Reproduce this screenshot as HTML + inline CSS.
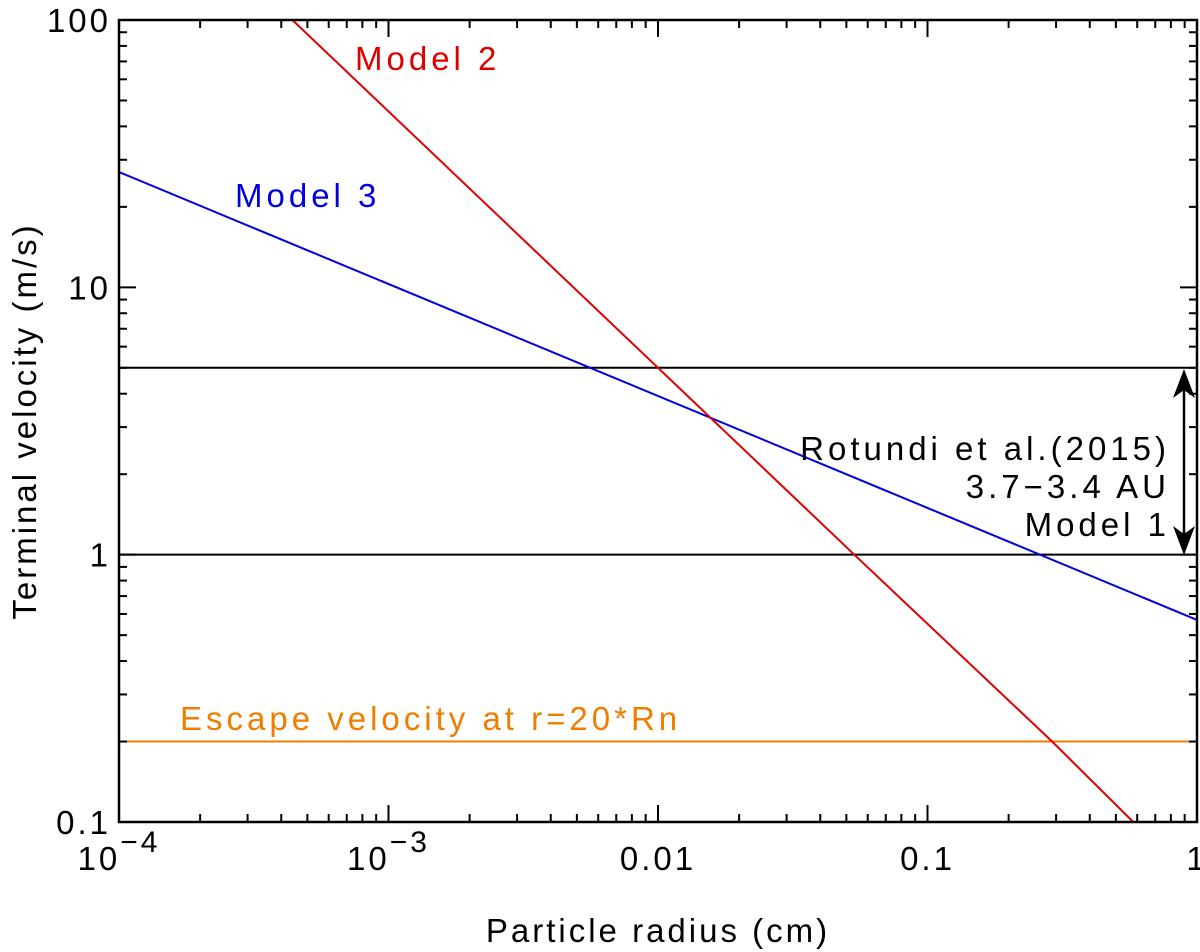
<!DOCTYPE html>
<html><head><meta charset="utf-8"><style>
html,body{margin:0;padding:0;background:#fff;}
svg{display:block;font-family:"Liberation Sans",sans-serif;}
</style></head><body>
<svg id="chart" width="1200" height="952" viewBox="0 0 1200 952" xmlns="http://www.w3.org/2000/svg">
<defs>
<clipPath id="clip"><rect x="119" y="20" width="1078" height="802"/></clipPath>
</defs>
<g id="grid"></g>
<g id="series" clip-path="url(#clip)"></g>
<rect x="119" y="20" width="1078" height="802" fill="none" stroke="#000" stroke-width="2.5"/>
<g id="ticks"></g>
<text x="658" y="942" font-size="33" text-anchor="middle" letter-spacing="3">Particle radius (cm)</text>
<text transform="translate(36,421) rotate(-90)" font-size="33" text-anchor="middle" letter-spacing="3">Terminal velocity (m/s)</text>
<text x="355" y="70" font-size="33" letter-spacing="4" fill="#e00000">Model 2</text>
<text x="235" y="207" font-size="33" letter-spacing="4" fill="#0000e0">Model 3</text>
<text x="180" y="730" font-size="33" letter-spacing="4" fill="#f07d00">Escape velocity at r=20*Rn</text>
<text x="1170" y="460" font-size="33" letter-spacing="4" text-anchor="end">Rotundi et al.(2015)</text>
<text x="1170" y="498" font-size="33" letter-spacing="4" text-anchor="end">3.7−3.4 AU</text>
<text x="1170" y="536" font-size="33" letter-spacing="4" text-anchor="end">Model 1</text>
<g>
<line x1="1184" y1="380" x2="1184" y2="545" stroke="#000" stroke-width="2.5"/>
<path d="M1184 369 L1173 398 L1184 390 L1195 398 Z" fill="#000"/>
<path d="M1184 555 L1173 526 L1184 534 L1195 526 Z" fill="#000"/>
</g>
</svg>
<script>
const xDecades = [-4, -3, -2, -1, 0];
const xTickLabels = ["10^-4", "10^-3", "0.01", "0.1", "1"];
const yDecades = [-1, 0, 1, 2];
const yTickLabels = ["0.1", "1", "10", "100"];
const model1Upper = 5;
const model1Lower = 1;
const escapeVelocity = 0.2;
const model2Radius = [0.00044, 0.01, 0.0535, 0.29, 0.58];
const model2Velocity = [100, 5, 1, 0.2, 0.1];
const model3Radius = [0.0001, 1];
const model3Velocity = [27, 0.57];

const X0=119, X1=1197, Y0=822, Y1=20;
const xmin=-4, xmax=0, ymin=-1, ymax=2;
function xs(v){return X0+(Math.log10(v)-xmin)/(xmax-xmin)*(X1-X0);}
function ys(v){return Y0-(Math.log10(v)-ymin)/(ymax-ymin)*(Y0-Y1);}
const NS="http://www.w3.org/2000/svg";
function mk(tag,attrs,parent){const e=document.createElementNS(NS,tag);for(const k in attrs)e.setAttribute(k,attrs[k]);parent.appendChild(e);return e;}
const ticks=document.getElementById('ticks');
const series=document.getElementById('series');

xDecades.forEach((d,i)=>{
  for(let m=1;m<=9;m++){
    if(d===0 && m>1) break;
    const v=m*Math.pow(10,d), x=xs(v), L=m===1?17:8;
    const t1=mk('line',{x1:x,y1:Y0,x2:x,y2:Y0-L,stroke:'#000','stroke-width':2},ticks);
    
    
    const t2=mk('line',{x1:x,y1:Y1,x2:x,y2:Y1+L,stroke:'#000','stroke-width':2},ticks);
    
    
  }
  const lab=xTickLabels[i], x=xs(Math.pow(10,d));
  const t=mk('text',{x:x,y:870,'font-size':33,'letter-spacing':3,'text-anchor':'middle'},ticks);
  
  
  if(lab.startsWith('10^')){
    t.textContent='10';
    const s=mk('tspan',{dy:-18,'font-size':30},t);
    s.textContent=lab.slice(3).replace('-','−');
  } else t.textContent=lab;
});
yDecades.forEach((d,i)=>{
  for(let m=1;m<=9;m++){
    if(d===2 && m>1) break;
    const v=m*Math.pow(10,d), y=ys(v), L=m===1?17:8;
    const t1=mk('line',{x1:X0,y1:y,x2:X0+L,y2:y,stroke:'#000','stroke-width':2},ticks);
    
    
    const t2=mk('line',{x1:X1,y1:y,x2:X1-L,y2:y,stroke:'#000','stroke-width':2},ticks);
    
    
  }
  const t=mk('text',{x:111,y:ys(Math.pow(10,d))+12,'font-size':33,'letter-spacing':3,'text-anchor':'end'},ticks);
  
  
  t.textContent=yTickLabels[i];
});

function hline(v,color,name){
  const l=mk('line',{x1:X0,x2:X1,y1:ys(v),y2:ys(v),stroke:color,'stroke-width':2},series);
  
  
}
hline(model1Upper,'#000','model-1-upper-line');
hline(model1Lower,'#000','model-1-lower-line');
hline(escapeVelocity,'#f07d00','escape-velocity-line');
function poly(rs,vs,color,name){
  const pts=rs.map((r,i)=>xs(r)+','+ys(vs[i])).join(' ');
  const p=mk('polyline',{points:pts,fill:'none',stroke:color,'stroke-width':2},series);
  
  
}
poly(model3Radius,model3Velocity,'#0000e0','model-3-line');
poly(model2Radius,model2Velocity,'#e00000','model-2-line');
</script>
</body></html>
